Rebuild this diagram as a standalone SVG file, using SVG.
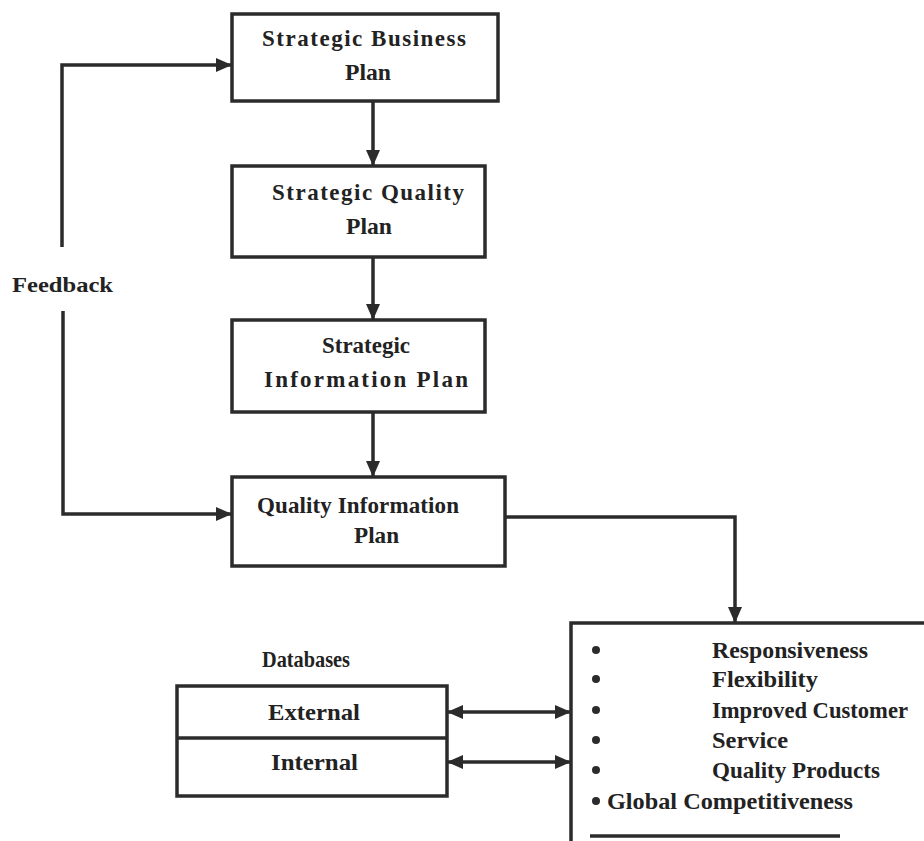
<svg xmlns="http://www.w3.org/2000/svg" width="924" height="841" viewBox="0 0 924 841">
  <style>
    .box { fill: #fff; stroke: #2b2b2b; stroke-width: 3.5; }
    .line { fill: none; stroke: #2b2b2b; stroke-width: 3.5; }
    .t { font-family: "Liberation Serif", "Times New Roman", serif; font-weight: bold; font-size: 23px; fill: #222; }
    .s { font-size: 21px; }
    .dot { fill: #2b2b2b; }
  </style>
  <defs>
    <marker id="arr" viewBox="0 0 16 14" refX="15" refY="7" markerWidth="16" markerHeight="14" markerUnits="userSpaceOnUse" orient="auto-start-reverse">
      <path d="M0,0 L16,7 L0,14 Z" fill="#2b2b2b"/>
    </marker>
  </defs>
  <rect width="924" height="841" fill="#fff"/>

  <g id="connectors">
    <path class="line" d="M373,101 V165" marker-end="url(#arr)"/>
    <path class="line" d="M373,257 V319" marker-end="url(#arr)"/>
    <path class="line" d="M373,412 V476" marker-end="url(#arr)"/>
    <path class="line" d="M62,247 V65 H231" marker-end="url(#arr)"/>
    <path class="line" d="M63,311 V514 H231" marker-end="url(#arr)"/>
    <path class="line" d="M505,517 H735 V622" marker-end="url(#arr)"/>
    <path class="line" d="M448,712 H570" marker-start="url(#arr)" marker-end="url(#arr)"/>
    <path class="line" d="M448,762 H570" marker-start="url(#arr)" marker-end="url(#arr)"/>
  </g>

  <text class="t s" x="12" y="292" textLength="101" lengthAdjust="spacingAndGlyphs">Feedback</text>

  <g id="strategic-business-plan">
    <rect class="box" x="232" y="14" width="266" height="87"/>
    <text class="t" x="262" y="46" textLength="204" lengthAdjust="spacing">Strategic  Business</text>
    <text class="t" x="345" y="80" textLength="46" lengthAdjust="spacingAndGlyphs">Plan</text>
  </g>

  <g id="strategic-quality-plan">
    <rect class="box" x="232" y="166" width="253" height="91"/>
    <text class="t" x="272" y="200" textLength="192" lengthAdjust="spacing">Strategic  Quality</text>
    <text class="t" x="346" y="234" textLength="46" lengthAdjust="spacingAndGlyphs">Plan</text>
  </g>

  <g id="strategic-information-plan">
    <rect class="box" x="232" y="320" width="253" height="92"/>
    <text class="t" x="322" y="353" textLength="88" lengthAdjust="spacingAndGlyphs">Strategic</text>
    <text class="t" x="264" y="387" textLength="204" lengthAdjust="spacing">Information  Plan</text>
  </g>

  <g id="quality-information-plan">
    <rect class="box" x="232" y="477" width="273" height="89"/>
    <text class="t" x="257" y="513" textLength="202" lengthAdjust="spacing">Quality Information</text>
    <text class="t" x="354" y="543" textLength="45" lengthAdjust="spacingAndGlyphs">Plan</text>
  </g>

  <g id="databases">
    <text class="t" x="262" y="667" textLength="88" lengthAdjust="spacingAndGlyphs">Databases</text>
    <rect class="box" x="177" y="686" width="270" height="110"/>
    <path class="line" d="M177,738 H447"/>
    <text class="t" x="268" y="720" textLength="92" lengthAdjust="spacingAndGlyphs">External</text>
    <text class="t" x="271" y="770" textLength="87" lengthAdjust="spacingAndGlyphs">Internal</text>
  </g>

  <g id="outcomes">
    <path class="line" d="M571,841 V623 H924"/>
    <path class="line" d="M590,836 H840"/>
    <circle class="dot" cx="596" cy="650" r="4"/>
    <circle class="dot" cx="596" cy="679" r="4"/>
    <circle class="dot" cx="596" cy="710" r="4"/>
    <circle class="dot" cx="596" cy="740" r="4"/>
    <circle class="dot" cx="596" cy="770" r="4"/>
    <circle class="dot" cx="596" cy="801" r="4"/>
    <text class="t" x="712" y="658" textLength="156" lengthAdjust="spacingAndGlyphs">Responsiveness</text>
    <text class="t" x="712" y="687" textLength="106" lengthAdjust="spacingAndGlyphs">Flexibility</text>
    <text class="t" x="712" y="718" textLength="196" lengthAdjust="spacingAndGlyphs">Improved Customer</text>
    <text class="t" x="712" y="748" textLength="76" lengthAdjust="spacingAndGlyphs">Service</text>
    <text class="t" x="712" y="778" textLength="168" lengthAdjust="spacingAndGlyphs">Quality Products</text>
    <text class="t" x="607" y="809" textLength="246" lengthAdjust="spacingAndGlyphs">Global Competitiveness</text>
  </g>
</svg>
